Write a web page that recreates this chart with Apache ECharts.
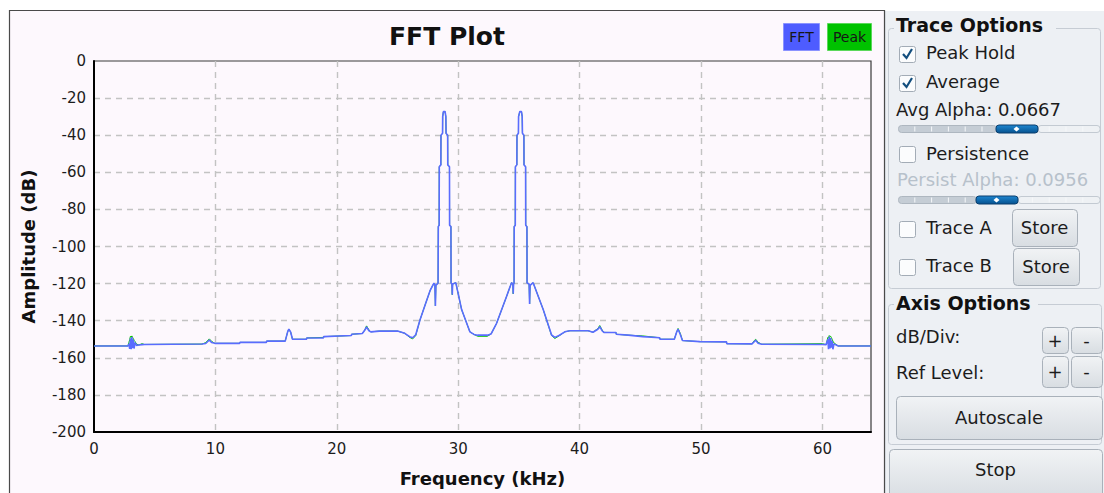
<!DOCTYPE html>
<html>
<head>
<meta charset="utf-8">
<script src="https://cdn.jsdelivr.net/npm/echarts@6/dist/echarts.min.js"></script>
<style>
  html, body { margin: 0; padding: 0; background: #ffffff; }
  #chart { width: 1104px; height: 493px; }
</style>
</head>
<body>
<div id="chart"></div>
<script>
// Spectrum trace: frequency bins (kHz) and averaged / peak-hold amplitudes (dB)
const freqKHz = [
  0, 2.8, 2.88, 2.94, 3.0, 3.06, 3.12, 3.18, 3.24, 3.3,
  3.38, 3.5, 3.7, 3.95, 4.15, 8.9, 9.2, 9.5, 9.7, 9.95,
  12.0, 12.02, 14.2, 14.22, 15.75, 15.95, 16.05, 16.2, 16.35, 17.5,
  17.52, 18.9, 18.92, 21.2, 21.22, 22.1, 22.3, 22.45, 22.65, 22.8,
  23.5, 25.0, 25.6, 26.0, 26.25, 26.5, 26.85, 27.3, 27.7, 28.0,
  28.08, 28.12, 28.16, 28.34, 28.36, 28.43, 28.44, 28.57, 28.58, 28.71,
  28.72, 28.78, 28.92, 28.98, 29.0, 29.13, 29.14, 29.28, 29.29, 29.4,
  29.41, 29.48, 29.51, 29.54, 29.8, 30.28, 30.96, 31.3, 31.6, 32.4,
  32.7, 33.16, 33.98, 34.39, 34.5, 34.53, 34.56, 34.6, 34.61, 34.7,
  34.71, 34.83, 34.84, 34.96, 34.97, 35.07, 35.21, 35.27, 35.29, 35.41,
  35.42, 35.55, 35.56, 35.66, 35.67, 35.84, 35.88, 35.92, 36.17, 37.0,
  37.69, 37.96, 38.3, 38.78, 39.2, 40.7, 41.1, 41.5, 41.66, 41.85,
  42.0, 43.0, 43.02, 44.0, 45.2, 46.6, 46.62, 47.8, 48.0, 48.11,
  48.3, 48.47, 49.9, 52.1, 52.12, 54.2, 54.4, 54.5, 54.7, 55.0,
  60.0, 60.3, 60.45, 60.5, 60.56, 60.62, 60.68, 60.74, 60.8, 60.86,
  60.95, 61.3, 64.0
];

const fftDb = [
  -153.6, -153.6, -152.4, -155.2, -149.6, -155.4, -148.8, -154.8, -150.2, -155.0,
  -151.8, -153.3, -153.1, -152.9, -152.8, -152.6, -152.3, -150.4, -151.8, -152.2,
  -152.2, -151.7, -151.7, -151.0, -151.0, -146.0, -144.5, -146.2, -150.0, -150.0,
  -149.3, -149.3, -148.6, -148.0, -147.3, -146.9, -145.2, -143.4, -145.4, -146.0,
  -145.6, -145.6, -146.8, -148.6, -149.2, -147.6, -139.6, -131.0, -123.5, -119.8,
  -120.6, -132.0, -121.0, -119.7, -89.3, -88.5, -57.0, -56.0, -40.0, -39.0,
  -30.0, -27.3, -27.3, -30.0, -39.0, -40.0, -56.0, -57.0, -88.5, -89.3,
  -119.7, -120.2, -126.0, -120.2, -119.5, -134.0, -146.0, -147.4, -147.8, -147.8,
  -147.2, -141.4, -127.0, -119.5, -120.2, -125.5, -120.2, -119.7, -89.3, -88.5,
  -57.0, -56.0, -40.0, -39.0, -30.0, -27.3, -27.3, -30.0, -39.0, -40.0,
  -56.0, -57.0, -88.5, -89.3, -119.7, -120.2, -131.0, -121.0, -119.5, -134.0,
  -147.7, -149.0, -148.0, -146.0, -145.4, -145.4, -146.2, -144.6, -143.2, -145.4,
  -146.3, -146.4, -147.3, -147.8, -148.6, -149.2, -150.0, -150.0, -146.0, -144.6,
  -147.6, -150.7, -151.3, -151.4, -152.4, -152.5, -151.2, -150.6, -152.2, -152.7,
  -152.8, -152.9, -150.0, -155.3, -148.6, -155.0, -149.4, -154.6, -150.8, -155.4,
  -152.5, -153.6, -153.6
];

const peakDb = [
  -153.6, -153.6, -151.6, -150.2, -148.4, -148.8, -148.2, -149.0, -149.6, -150.6,
  -151.2, -152.6, -153.1, -152.4, -152.8, -152.6, -151.8, -149.8, -151.2, -152.2,
  -152.2, -151.7, -151.7, -151.0, -151.0, -146.0, -144.5, -146.2, -150.0, -150.0,
  -149.3, -149.0, -148.6, -148.0, -147.3, -146.9, -145.0, -142.8, -145.0, -146.0,
  -145.6, -145.6, -146.8, -149.0, -149.8, -148.0, -139.6, -131.0, -123.5, -119.8,
  -120.6, -132.0, -121.0, -119.7, -89.3, -88.5, -57.0, -56.0, -40.0, -39.0,
  -30.0, -27.3, -27.3, -30.0, -39.0, -40.0, -56.0, -57.0, -88.5, -89.3,
  -119.7, -120.2, -126.0, -120.2, -119.5, -134.0, -146.0, -147.4, -148.4, -148.4,
  -147.2, -141.4, -127.0, -119.5, -120.2, -125.5, -120.2, -119.7, -89.3, -88.5,
  -57.0, -56.0, -40.0, -39.0, -30.0, -27.3, -27.3, -30.0, -39.0, -40.0,
  -56.0, -57.0, -88.5, -89.3, -119.7, -120.2, -131.0, -121.0, -119.5, -134.0,
  -148.0, -149.6, -148.2, -146.0, -145.4, -145.4, -146.2, -144.2, -142.6, -145.0,
  -146.3, -146.4, -147.3, -147.8, -148.2, -149.2, -150.0, -150.0, -146.0, -144.2,
  -147.0, -150.7, -151.3, -151.4, -152.4, -152.5, -150.6, -150.0, -151.6, -152.7,
  -152.4, -152.9, -149.0, -149.4, -148.0, -148.6, -148.4, -149.2, -150.0, -151.0,
  -152.0, -153.6, -153.6
];

// Axis ranges
const freqRange = [0, 64];
const freqStep = 10;
const dbRange = [-200, 0];
const dbStep = 20;

const seriesNames = ['FFT', 'Peak'];
const seriesColors = ['#5a6cff', '#00c000'];

// Control-panel values
const avgAlpha = '0.0667';
const persistAlpha = '0.0956';

const FONT = '"DejaVu Sans", "Liberation Sans", sans-serif';
const plotBg = '#fdf8fd';
const panelBg = '#edf0f4';

const pair = (xs, ys) => xs.map((x, i) => [x, ys[i]]);

function txt(x, y, text, size, opts) {
  opts = opts || {};
  return {
    type: 'text', x: x, y: y, z: opts.z || 20,
    style: {
      text: text,
      fill: opts.color || '#1c1c1c',
      font: (opts.bold ? 'bold ' : '') + size + 'px ' + FONT,
      fontSize: size, fontFamily: FONT, fontWeight: opts.bold ? 'bold' : 'normal',
      align: opts.align || 'left', textAlign: opts.align || 'left',
      verticalAlign: 'middle', textVerticalAlign: 'middle'
    }
  };
}

function checkbox(x, yc, checked) {
  const els = [{
    type: 'rect', z: 15,
    shape: { x: x + 0.5, y: yc - 8 + 0.5, width: 16, height: 16, r: 2 },
    style: { fill: '#fbfcfd', stroke: '#a3acb6', lineWidth: 1 }
  }];
  if (checked) {
    els.push({
      type: 'polyline', z: 16,
      shape: { points: [[x + 4, yc], [x + 7.5, yc + 4], [x + 13, yc - 5]] },
      style: { stroke: '#124e7e', lineWidth: 2.2, fill: null }
    });
  }
  return els;
}

const btnFill = {
  type: 'linear', x: 0, y: 0, x2: 0, y2: 1,
  colorStops: [{ offset: 0, color: '#f1f3f5' }, { offset: 1, color: '#d8dde2' }]
};

function button(x, y, w, h, label, size, labelY) {
  return [{
    type: 'rect', z: 15,
    shape: { x: x + 0.5, y: y + 0.5, width: w, height: h, r: 4 },
    style: { fill: btnFill, stroke: '#a9b1ba', lineWidth: 1 }
  }, txt(x + w / 2, labelY !== undefined ? labelY : y + h / 2, label, size, { align: 'center', z: 16 })];
}

function slider(yc, fillFrom, fillTo, handleX) {
  const x0 = 898, x1 = 1100;
  const els = [
    { type: 'rect', z: 15, shape: { x: x0 + 0.5, y: yc - 3.5, width: fillFrom - x0, height: 7, r: 3 },
      style: { fill: '#c5cdd5', stroke: '#aeb7c0', lineWidth: 1 } },
    { type: 'rect', z: 15, shape: { x: fillTo, y: yc - 3.5, width: x1 - fillTo, height: 7, r: 3 },
      style: { fill: '#eef1f4', stroke: '#c3cad2', lineWidth: 1 } }
  ];
  for (let k = 1; k < 12; k++) {
    const tx = x0 + k * 16.8;
    if (tx > fillFrom - 2 && tx < fillTo + 2) continue;
    els.push({ type: 'line', z: 16, shape: { x1: tx, y1: yc - 2.5, x2: tx, y2: yc + 2.5 },
      style: { stroke: '#f6f8fa', lineWidth: 1 } });
  }
  els.push({
    type: 'rect', z: 17, shape: { x: fillFrom, y: yc - 4, width: fillTo - fillFrom, height: 8, r: 3 },
    style: {
      fill: { type: 'linear', x: 0, y: 0, x2: 0, y2: 1,
        colorStops: [{ offset: 0, color: '#1e86d0' }, { offset: 1, color: '#06528f' }] },
      stroke: '#0b3f6e', lineWidth: 1
    }
  });
  els.push({
    type: 'polygon', z: 18,
    shape: { points: [[handleX, yc - 2.5], [handleX + 3, yc], [handleX, yc + 2.5], [handleX - 3, yc]] },
    style: { fill: '#ffffff' }
  });
  return els;
}

const graphics = [
  // widget frame
  { type: 'rect', z: -10, shape: { x: 0, y: 0, width: 1104, height: 10 }, style: { fill: '#ffffff' } },
  { type: 'rect', z: -10, shape: { x: 9.5, y: 10.5, width: 875, height: 490 },
    style: { fill: plotBg, stroke: '#4a4a4a', lineWidth: 1.2 } },
  { type: 'rect', z: -9, shape: { x: 885, y: 11, width: 219, height: 482 },
    style: { fill: panelBg } },
  { type: 'line', z: -8, shape: { x1: 885.5, y1: 11, x2: 885.5, y2: 493 },
    style: { stroke: '#d3d7dd', lineWidth: 1 } },

  // title
  txt(447, 36, 'FFT Plot', 25, { bold: true, align: 'center', color: '#111111' }),

  // series key
  { type: 'rect', z: 10, shape: { x: 783.5, y: 23.5, width: 36, height: 27 },
    style: { fill: '#4e5cff', stroke: '#8a93ff', lineWidth: 1 } },
  txt(801.5, 37, seriesNames[0], 14, { align: 'center', color: '#161616' }),
  { type: 'rect', z: 10, shape: { x: 827.5, y: 23.5, width: 44, height: 27 },
    style: { fill: '#00c200', stroke: '#5ad85a', lineWidth: 1 } },
  txt(849.5, 37, seriesNames[1], 14, { align: 'center', color: '#161616' }),

  // Trace Options group
  { type: 'rect', z: 12, shape: { x: 888.5, y: 28.5, width: 212, height: 260, r: 3 },
    style: { fill: null, stroke: '#c6ccd4', lineWidth: 1 } },
  { type: 'rect', z: 13, shape: { x: 894, y: 18, width: 162, height: 16 }, style: { fill: panelBg } },
  txt(896, 25, 'Trace Options', 19, { bold: true, color: '#111111' }),

  ...checkbox(899, 54, true),
  txt(926, 52, 'Peak Hold', 18),
  ...checkbox(899, 83, true),
  txt(926, 81, 'Average', 18),
  txt(896, 109, 'Avg Alpha: ' + avgAlpha, 18),
  ...slider(129, 996, 1038, 1016.5),

  ...checkbox(899, 154, false),
  txt(926, 153, 'Persistence', 18),
  txt(897, 179, 'Persist Alpha: ' + persistAlpha, 18, { color: '#b7c1cb' }),
  ...slider(200, 976, 1018, 996.5),

  ...checkbox(899, 229, false),
  txt(926, 227, 'Trace A', 18),
  ...button(1012, 209, 65, 37, 'Store', 18),
  ...checkbox(899, 267, false),
  txt(926, 265, 'Trace B', 18),
  ...button(1013, 248, 66, 37, 'Store', 18),

  // Axis Options group
  { type: 'rect', z: 12, shape: { x: 888.5, y: 304.5, width: 213, height: 140, r: 3 },
    style: { fill: null, stroke: '#c6ccd4', lineWidth: 1 } },
  { type: 'rect', z: 13, shape: { x: 894, y: 294, width: 144, height: 16 }, style: { fill: panelBg } },
  txt(896, 303, 'Axis Options', 19, { bold: true, color: '#111111' }),
  txt(896, 336, 'dB/Div:', 18),
  ...button(1042, 327, 26, 26, '+', 18),
  ...button(1071, 327, 31, 26, '-', 18),
  txt(896, 372, 'Ref Level:', 18),
  ...button(1042, 356, 26, 31, '+', 18),
  ...button(1071, 356, 31, 31, '-', 18),
  ...button(896, 396, 206, 43, 'Autoscale', 18),

  // the Stop button runs past the bottom edge, so its label is placed explicitly
  ...button(889, 449, 213, 50, 'Stop', 18, 469)
];

const chart = echarts.init(document.getElementById('chart'), null, { renderer: 'svg', width: 1104, height: 493 });

chart.setOption({
  backgroundColor: '#ffffff',
  animation: false,
  textStyle: { fontFamily: FONT },
  grid: {
    left: 94, top: 61, right: 233, bottom: 61,
    show: true, backgroundColor: plotBg, borderColor: '#3a3a3a', borderWidth: 1.2
  },
  xAxis: {
    type: 'value', min: freqRange[0], max: freqRange[1], interval: freqStep,
    name: 'Frequency (kHz)', nameLocation: 'middle', nameGap: 37,
    nameTextStyle: { fontFamily: FONT, fontWeight: 'bold', fontSize: 18, color: '#111111' },
    axisLine: { show: true, onZero: false, lineStyle: { color: '#000000', width: 2 } },
    axisTick: { show: false },
    axisLabel: { showMaxLabel: false, color: '#1c1c1c', fontFamily: FONT, fontSize: 15, margin: 9 },
    splitLine: { show: true, showMinLine: false, showMaxLine: false,
      lineStyle: { color: '#c3c3c3', type: [6, 5], width: 1.4 } }
  },
  yAxis: {
    type: 'value', min: dbRange[0], max: dbRange[1], interval: dbStep,
    name: 'Amplitude (dB)', nameLocation: 'middle', nameGap: 57, nameRotate: 90,
    nameTextStyle: { fontFamily: FONT, fontWeight: 'bold', fontSize: 18, color: '#111111' },
    axisLine: { show: true, onZero: false, lineStyle: { color: '#000000', width: 2 } },
    axisTick: { show: false },
    axisLabel: { color: '#1c1c1c', fontFamily: FONT, fontSize: 15, margin: 8 },
    splitLine: { show: true, showMinLine: false, showMaxLine: false,
      lineStyle: { color: '#c3c3c3', type: [6, 5], width: 1.4 } }
  },
  series: [
    {
      name: seriesNames[1], type: 'line', data: pair(freqKHz, peakDb),
      showSymbol: false, symbol: 'none', z: 2,
      lineStyle: { color: seriesColors[1], width: 1 }
    },
    {
      name: seriesNames[0], type: 'line', data: pair(freqKHz, fftDb),
      showSymbol: false, symbol: 'none', z: 3,
      lineStyle: { color: seriesColors[0], width: 1.6 }
    }
  ],
  graphic: graphics
});
</script>
</body>
</html>
